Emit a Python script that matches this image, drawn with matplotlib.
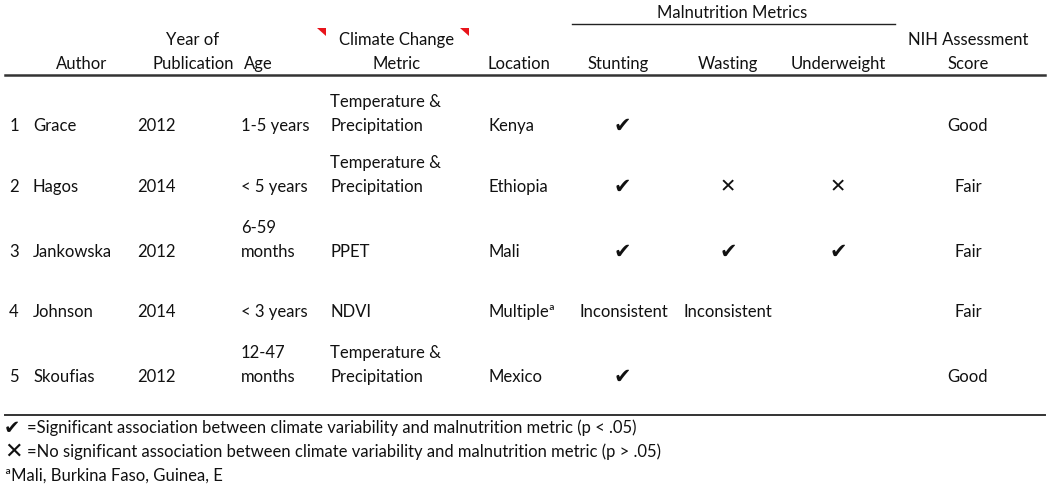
import matplotlib.pyplot as plt
from matplotlib.patches import Polygon

# table content
nums = ["1", "2", "3", "4", "5"]
authors = ["Grace", "Hagos", "Jankowska", "Johnson", "Skoufias"]
years = ["2012", "2014", "2012", "2014", "2012"]
ages = ["1-5 years", "< 5 years", "6-59\nmonths", "< 3 years", "12-47\nmonths"]
metrics = ["Temperature &\nPrecipitation", "Temperature &\nPrecipitation", "PPET", "NDVI",
           "Temperature &\nPrecipitation"]
locations = ["Kenya", "Ethiopia", "Mali", "Multipleª", "Mexico"]
stunting = ["✔", "✔", "✔", "Inconsistent", "✔"]
wasting = ["", "✕", "✔", "Inconsistent", ""]
underweight = ["", "✕", "✔", "", ""]
scores = ["Good", "Fair", "Fair", "Fair", "Good"]

headers = ["Author", "Year of\nPublication", "Age", "Climate Change\nMetric", "Location",
           "Stunting", "Wasting", "Underweight", "NIH Assessment\nScore"]
group_title = "Malnutrition Metrics"
note_marks = ["✔", "✕", ""]
notes = ["=Significant association between climate variability and malnutrition metric (p < .05)",
         "=No significant association between climate variability and malnutrition metric (p > .05)",
         "ªMali, Burkina Faso, Guinea, E"]

W, H = 1050, 493
fam = ["Lato", "DejaVu Sans"]
fs = 12
lh = 24  # line height in px
ink = "#111111"

fig = plt.figure(figsize=(W / 100, H / 100), dpi=100)
ax = fig.add_axes([0, 0, 1, 1])
ax.set_xlim(0, W)
ax.set_ylim(H, 0)
ax.axis("off")


def cell(x, y, s, ha="left"):
    # y = centre of the last line; earlier lines stack upward
    lines = s.split("\n")
    for i, ln in enumerate(lines):
        yy = y - (len(lines) - 1 - i) * lh
        ax.text(x, yy, ln, ha=ha, va="center", fontsize=fs, family=fam, color=ink)


def mark(x, y, s, ha="center", size=None):
    if s == "✔":
        ax.text(x, y, s, ha=ha, va="center", fontsize=size or 15,
                family="DejaVu Sans", color=ink)
    else:
        ax.text(x, y, s, ha=ha, va="center", fontsize=size or 14,
                family="DejaVu Sans", color=ink)


# header
hx = [82, 193, 258, 397, 519, 618, 728, 838, 968]
for x, h in zip(hx, headers):
    cell(x, 64, h, ha="center")
cell(732, 13, group_title, ha="center")
ax.plot([572, 895], [24, 24], color="#222222", lw=1.0)
ax.plot([5, 1045], [75, 75], color="#333333", lw=1.8)

# red corner markers
for x0 in [317, 460]:
    ax.add_patch(Polygon([[x0, 28], [x0 + 9, 28], [x0 + 9, 36]], closed=True,
                         color="#e8141b", lw=0))

# body
row_y = [126, 187, 252, 312, 377]
for i, y in enumerate(row_y):
    cell(14, y, nums[i], ha="center")
    cell(33, y, authors[i])
    cell(137, y, years[i])
    cell(241, y, ages[i])
    cell(330, y, metrics[i])
    cell(488, y, locations[i])
    for x, col in zip([622, 728, 838], [stunting, wasting, underweight]):
        v = col[i]
        if v == "Inconsistent":
            cell(x if x != 622 else 624, y, v, ha="center")
        elif v:
            mark(x, y, v)
    cell(968, y, scores[i], ha="center")

ax.plot([5, 1045], [415, 415], color="#333333", lw=1.4)

for j, (m, n) in enumerate(zip(note_marks, notes)):
    y = 428 + j * 24
    if m:
        mark(4, y, m, ha="left", size=14 if m == "✔" else 16)
        cell(27, y, n)
    else:
        cell(5, y, n)

fig.savefig("out.png", dpi=100)
